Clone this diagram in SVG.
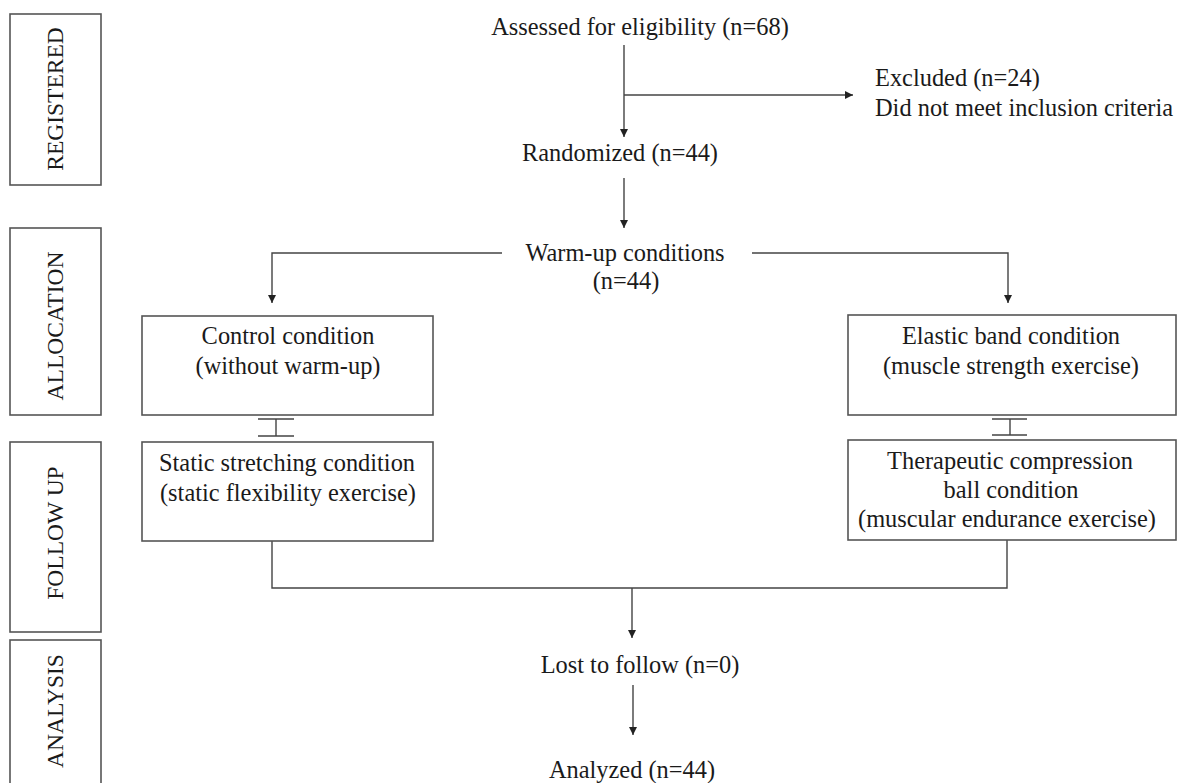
<svg xmlns="http://www.w3.org/2000/svg" width="1178" height="783" viewBox="0 0 1178 783">
<style>
text{font-family:"Liberation Serif","Times New Roman",serif;font-size:24.4px;fill:#1a1a1a}
.v{font-size:23.5px}
.c{text-anchor:middle}
.box{fill:#fff;stroke:#555;stroke-width:1.6}
.ln{fill:none;stroke:#444;stroke-width:1.4}
</style>
<defs>
<marker id="ah" viewBox="0 0 10 10" refX="10" refY="5" markerWidth="9" markerHeight="8" markerUnits="userSpaceOnUse" orient="auto">
<path d="M0,0 L10,5 L0,10 Z" fill="#222"/>
</marker>
</defs>
<rect width="1178" height="783" fill="#fff"/>
<g id="stage-registered"><rect class="box" x="10" y="14" width="91" height="171"/><text class="c v" transform="translate(63,99) rotate(-90)">REGISTERED</text></g>
<g id="stage-allocation"><rect class="box" x="10" y="228" width="91" height="187"/><text class="c v" transform="translate(63,326) rotate(-90)">ALLOCATION</text></g>
<g id="stage-followup"><rect class="box" x="10" y="442" width="91" height="190"/><text class="c v" transform="translate(63,533) rotate(-90)">FOLLOW UP</text></g>
<g id="stage-analysis"><rect class="box" x="10" y="640" width="91" height="160"/><text class="c v" transform="translate(63,711) rotate(-90)">ANALYSIS</text></g>

<g id="connectors">
<line class="ln" x1="624" y1="45" x2="624" y2="137" marker-end="url(#ah)"/>
<line class="ln" x1="624" y1="95" x2="853" y2="95" marker-end="url(#ah)"/>
<line class="ln" x1="624" y1="178" x2="624" y2="228" marker-end="url(#ah)"/>
<polyline class="ln" points="502,253 272,253 272,303" marker-end="url(#ah)"/>
<polyline class="ln" points="752,253 1008,253 1008,303" marker-end="url(#ah)"/>
<path class="ln" d="M258,419 H294 M276,419 V436 M258,436 H294"/>
<path class="ln" d="M992,419 H1027 M1010,419 V435 M992,435 H1027"/>
<polyline class="ln" points="272,541 272,588 1007,588 1007,540"/>
<line class="ln" x1="632" y1="588" x2="632" y2="638" marker-end="url(#ah)"/>
<line class="ln" x1="633" y1="685" x2="633" y2="735" marker-end="url(#ah)"/>
</g>

<g id="assessed"><text class="c" x="640" y="35">Assessed for eligibility (n=68)</text></g>
<g id="excluded"><text x="875" y="86">Excluded (n=24)</text><text x="875" y="116">Did not meet inclusion criteria</text></g>
<g id="randomized"><text class="c" x="620" y="161">Randomized (n=44)</text></g>
<g id="warmup"><text class="c" x="625" y="261">Warm-up conditions</text><text class="c" x="626" y="289">(n=44)</text></g>
<g id="control"><rect class="box" x="142" y="316" width="291" height="99"/><text class="c" x="288" y="344">Control condition</text><text class="c" x="288" y="374">(without warm-up)</text></g>
<g id="elastic"><rect class="box" x="848" y="315" width="328" height="100"/><text class="c" x="1011" y="344">Elastic band condition</text><text class="c" x="1011" y="374">(muscle strength exercise)</text></g>
<g id="static"><rect class="box" x="142" y="442" width="291" height="99"/><text class="c" x="287" y="471">Static stretching condition</text><text class="c" x="288" y="501">(static flexibility exercise)</text></g>
<g id="therapeutic"><rect class="box" x="848" y="440" width="328" height="100"/><text class="c" x="1010" y="469">Therapeutic compression</text><text class="c" x="1011" y="498">ball condition</text><text class="c" x="1007" y="527">(muscular endurance exercise)</text></g>
<g id="lost"><text class="c" x="640" y="673">Lost to follow (n=0)</text></g>
<g id="analyzed"><text class="c" x="632" y="778">Analyzed (n=44)</text></g>
</svg>
